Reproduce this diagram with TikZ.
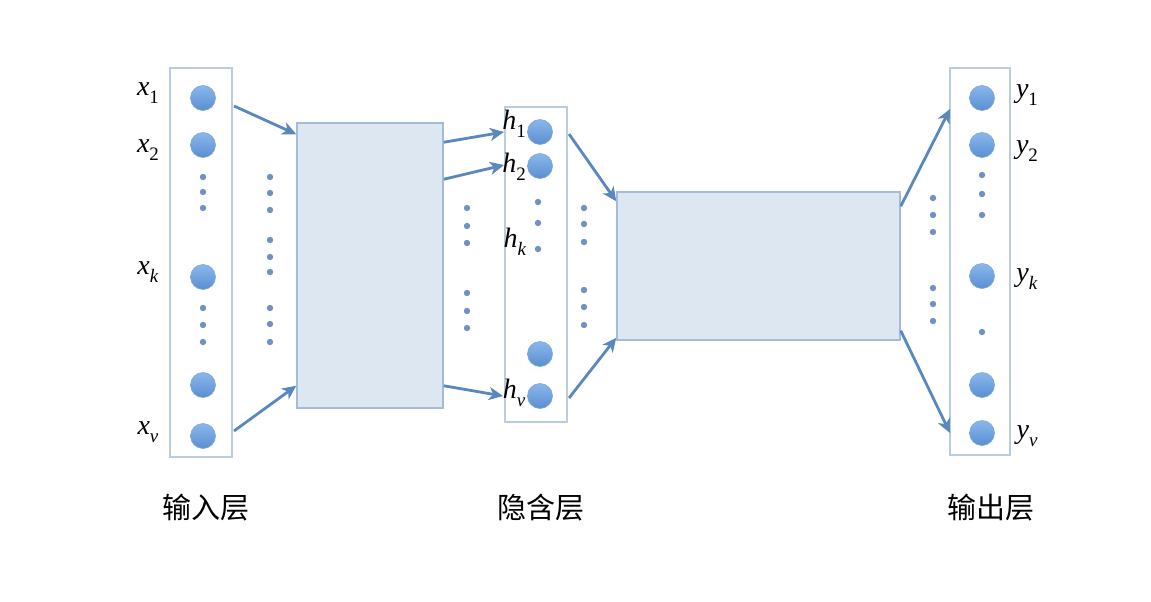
\documentclass[tikz,border=0pt]{standalone}
\usepackage{fontspec}
\setmainfont{Liberation Serif}
\newfontfamily\cjk{Noto Sans CJK SC}
\usetikzlibrary{calc,arrows.meta}
\definecolor{colbd}{HTML}{BACCE0}
\definecolor{boxfill}{HTML}{DDE7F2}
\definecolor{boxbd}{HTML}{A6BBD6}
\definecolor{arr}{HTML}{5B87BF}
\definecolor{dotc}{HTML}{6F92C2}
\definecolor{balltop}{HTML}{8AB8EC}
\definecolor{ballbot}{HTML}{5A8ED0}
\definecolor{balledge}{HTML}{7DA7DC}
\tikzset{
  column/.style={draw=colbd,line width=2pt,fill=white,minimum width=#1,inner sep=0pt},
  bigbox/.style={draw=boxbd,line width=1.5pt,fill=boxfill,inner sep=0pt},
  neuron/.style={circle,minimum size=25pt,inner sep=0pt,top color=balltop,bottom color=ballbot,draw=balledge,line width=0.6pt},
  conn/.style={draw=arr,line width=2.8pt,-{Stealth[length=14pt,width=13pt,inset=4pt]}},
  lab/.style={inner sep=0pt,font=\fontsize{28}{28}\selectfont},
  layername/.style={inner sep=0pt,font=\cjk\fontsize{29}{29}\selectfont},
}
\newcommand\lb[2]{\textit{#1}\raisebox{-0.28em}{\fontsize{19}{19}\selectfont #2}}
\newcommand\smalldot[2]{\fill[dotc] (#1,#2) circle (3.2pt);}
\begin{document}
\begin{tikzpicture}[x=1pt,y=-1pt]
\useasboundingbox (0,0) rectangle (1151,602);
% columns and boxes
\node[column=62pt,minimum height=389pt] (incol) at (201,262.5) {};
\node[column=62pt,minimum height=315pt] (hidcol) at (536,264.5) {};
\node[column=60pt,minimum height=387pt] (outcol) at (980,261.5) {};
\node[bigbox,minimum width=146pt,minimum height=285pt] (box1) at (370,265.5) {};
\node[bigbox,minimum width=283pt,minimum height=148pt] (box2) at (758.5,266) {};
% input neurons
\node[neuron] (x1) at (203,98) {};
\node[neuron] (x2) at (203,145) {};
\node[neuron] (xk) at (203,277) {};
\node[neuron] (xa) at (203,385) {};
\node[neuron] (xv) at (203,436) {};
% hidden neurons
\node[neuron] (h1) at (540,132) {};
\node[neuron] (h2) at (540,166) {};
\node[neuron] (ha) at (540,354) {};
\node[neuron] (hv) at (540,396) {};
% output neurons
\node[neuron] (y1) at (982,98) {};
\node[neuron] (y2) at (982,145) {};
\node[neuron] (yk) at (982,276) {};
\node[neuron] (ya) at (982,385) {};
\node[neuron] (yv) at (982,433) {};
% dots
\foreach \y in {177,192,208,308,325,342} {\smalldot{203}{\y}}
\foreach \y in {177,193,210,240,257,272,308,324,342} {\smalldot{270}{\y}}
\foreach \y in {208,226,243,293,311,328} {\smalldot{467}{\y}}
\foreach \y in {202,223,249} {\smalldot{538}{\y}}
\foreach \y in {208,224,242,290,307,325} {\smalldot{584}{\y}}
\foreach \y in {198,215,232,288,304,321} {\smalldot{933}{\y}}
\foreach \y in {175,194,215,332} {\smalldot{982}{\y}}
% connectors
\draw[conn] ($(incol.north east)+(1,39)$) -- ($(box1.north west)+(0,12)$);
\draw[conn] ($(incol.south east)+(1,-27)$) -- ($(box1.south west)+(0,-23)$);
\draw[conn] ($(box1.north east)+(0,20)$) -- ($(hidcol.north west)+(0,26)$);
\draw[conn] ($(box1.north east)+(0,57)$) -- ($(hidcol.north west)+(0,59)$);
\draw[conn] ($(box1.south east)+(0,-23)$) -- ($(hidcol.south west)+(-1,-27)$);
\draw[conn] ($(hidcol.north east)+(1,28)$) -- ($(box2.north west)+(0,10)$);
\draw[conn] ($(hidcol.south east)+(1,-25)$) -- ($(box2.south west)+(0,-3)$);
\draw[conn] ($(box2.north east)+(0,15)$) -- ($(outcol.north west)+(1,42)$);
\draw[conn] ($(box2.south east)+(0,-10)$) -- ($(outcol.south west)+(1,-23)$);
% labels
\node[lab] (lx1) at (148,93) {\lb{x}{1}};
\node[lab] (lx2) at (148,150) {\lb{x}{2}};
\node[lab] (lxk) at (148,272) {\lb{x}{\textit{k}}};
\node[lab] (lxv) at (148,432) {\lb{x}{\textit{v}}};
\node[lab] (lh1) at (514,124) {\lb{h}{1}};
\node[lab] (lh2) at (514,167) {\lb{h}{2}};
\node[lab] (lhk) at (515,242) {\lb{h}{\textit{k}}};
\node[lab] (lhv) at (514,393) {\lb{h}{\textit{v}}};
\node[lab] (ly1) at (1027,95) {\lb{y}{1}};
\node[lab] (ly2) at (1027,151) {\lb{y}{2}};
\node[lab] (lyk) at (1027,279) {\lb{y}{\textit{k}}};
\node[lab] (lyv) at (1027,436) {\lb{y}{\textit{v}}};
\node[layername] (n1) at (206,508) {输入层};
\node[layername] (n2) at (541,508) {隐含层};
\node[layername] (n3) at (991,508) {输出层};
\end{tikzpicture}
\end{document}
